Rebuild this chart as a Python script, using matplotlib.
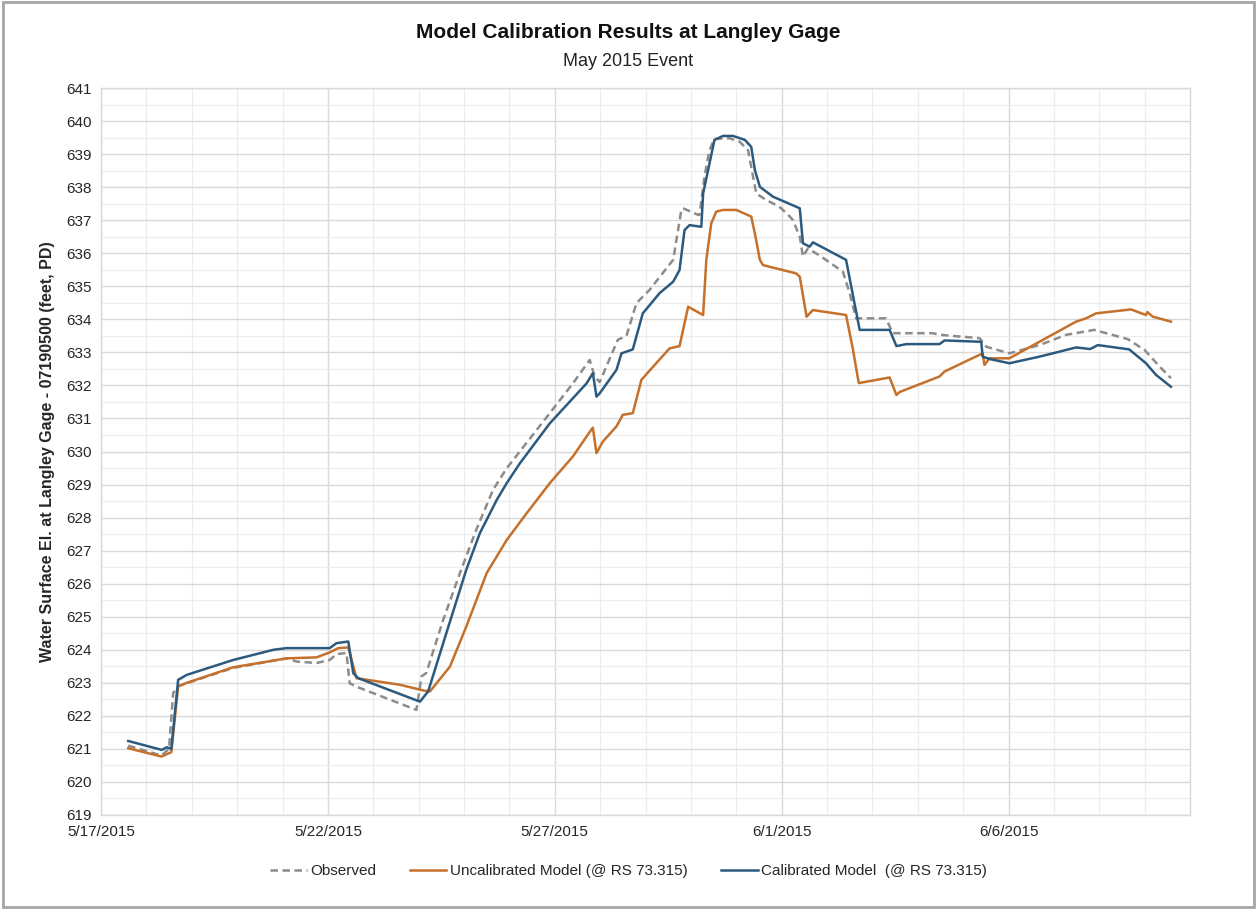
import matplotlib
matplotlib.use("Agg")
import matplotlib.pyplot as plt
import matplotlib.dates as mdates
from matplotlib.ticker import MultipleLocator, FuncFormatter
from matplotlib.patches import Rectangle
import datetime as dt

plt.rcParams['font.family'] = ['Liberation Sans', 'DejaVu Sans']

START = dt.datetime(2015, 5, 17)

# (day offset from 5/17/2015 00:00, water surface elevation)
obs_days = [0.60, 1.33, 1.50, 1.59, 1.70, 2.91, 4.09, 4.32, 4.75, 5.04, 5.19, 5.41, 5.48, 5.60,
            6.95, 7.00, 7.06, 7.17, 7.54, 7.91, 8.27, 8.64, 8.94, 9.23, 9.89, 10.40, 10.77, 10.88,
            10.99, 11.39, 11.58, 11.80, 12.09, 12.46, 12.61, 12.79, 12.83, 13.16, 13.19, 13.30,
            13.41, 13.52, 13.85, 14.07, 14.26, 14.37, 14.44, 14.66, 14.88, 14.99, 15.18, 15.25,
            15.40, 15.47, 15.58, 15.87, 16.35, 16.50, 16.64, 17.30, 17.45, 18.33, 18.50, 19.36,
            19.51, 20.02, 20.68, 21.27, 21.89, 22.63, 23.00, 23.33, 23.58]
obs_vals = [621.10, 620.80, 621.00, 622.69, 622.90, 623.45, 623.74, 623.64, 623.60, 623.69, 623.87,
            623.90, 622.99, 622.90, 622.18, 622.60, 623.19, 623.30, 624.90, 626.32, 627.63, 628.84,
            629.49, 630.00, 631.16, 632.06, 632.77, 632.27, 632.10, 633.38, 633.50, 634.49, 634.89,
            635.54, 635.80, 637.31, 637.36, 637.16, 637.16, 638.32, 639.12, 639.46, 639.48, 639.38,
            639.12, 638.32, 637.81, 637.61, 637.46, 637.36, 637.11, 637.00, 636.50, 635.90, 636.15,
            635.90, 635.44, 634.79, 634.03, 634.03, 633.58, 633.58, 633.53, 633.43, 633.17, 632.97,
            633.22, 633.53, 633.68, 633.40, 633.07, 632.57, 632.22]

unc_days = [0.60, 1.33, 1.55, 1.70, 1.89, 2.91, 4.09, 4.75, 5.04, 5.23, 5.45, 5.63, 6.59, 7.10,
            7.25, 7.69, 8.05, 8.50, 8.94, 9.38, 9.89, 10.40, 10.80, 10.84, 10.92, 11.06, 11.36,
            11.50, 11.72, 11.91, 12.17, 12.53, 12.75, 12.94, 13.27, 13.34, 13.45, 13.56, 13.71,
            14.00, 14.33, 14.41, 14.52, 14.59, 15.32, 15.40, 15.55, 15.69, 16.42, 16.57, 16.70,
            17.38, 17.53, 17.60, 18.48, 18.59, 19.43, 19.47, 19.58, 20.02, 20.68, 21.49, 21.71,
            21.93, 22.70, 23.03, 23.06, 23.18, 23.58]
unc_vals = [621.02, 620.77, 620.90, 622.89, 623.00, 623.47, 623.74, 623.77, 623.92, 624.05, 624.07,
            623.14, 622.94, 622.77, 622.74, 623.49, 624.70, 626.32, 627.32, 628.13, 629.04, 629.85,
            630.65, 630.72, 629.95, 630.30, 630.76, 631.11, 631.16, 632.17, 632.57, 633.12, 633.19,
            634.38, 634.13, 635.80, 636.91, 637.26, 637.31, 637.31, 637.11, 636.60, 635.80, 635.64,
            635.39, 635.29, 634.08, 634.28, 634.13, 633.10, 632.07, 632.24, 631.71, 631.80, 632.27,
            632.42, 632.97, 632.62, 632.82, 632.82, 633.32, 633.93, 634.03, 634.18, 634.30, 634.13,
            634.22, 634.08, 633.93]

cal_days = [0.60, 1.34, 1.45, 1.55, 1.70, 1.89, 2.91, 3.80, 4.09, 5.04, 5.19, 5.45, 5.56, 5.67,
            7.03, 7.21, 7.61, 8.05, 8.35, 8.72, 8.94, 9.23, 9.89, 10.70, 10.84, 10.92, 10.99, 11.36,
            11.47, 11.72, 11.94, 12.31, 12.61, 12.75, 12.86, 12.97, 13.23, 13.27, 13.38, 13.52,
            13.71, 13.93, 14.19, 14.33, 14.41, 14.52, 14.81, 15.40, 15.47, 15.62, 15.69, 16.42,
            16.72, 17.38, 17.53, 17.75, 18.48, 18.59, 19.40, 19.43, 19.58, 20.02, 20.68, 21.12,
            21.49, 21.80, 21.97, 22.66, 23.03, 23.25, 23.58]
cal_vals = [621.24, 620.97, 621.05, 621.00, 623.09, 623.24, 623.69, 624.00, 624.05, 624.05, 624.20,
            624.25, 623.29, 623.14, 622.43, 622.74, 624.50, 626.42, 627.53, 628.53, 629.04, 629.64,
            630.85, 632.06, 632.37, 631.66, 631.76, 632.47, 632.97, 633.09, 634.18, 634.79, 635.14,
            635.49, 636.70, 636.85, 636.80, 637.81, 638.52, 639.43, 639.55, 639.55, 639.43, 639.22,
            638.52, 638.01, 637.71, 637.36, 636.30, 636.20, 636.33, 635.80, 633.68, 633.68, 633.19,
            633.25, 633.25, 633.36, 633.32, 632.87, 632.80, 632.67, 632.87, 633.02, 633.15, 633.10,
            633.22, 633.09, 632.67, 632.32, 631.96]

x_tick_dates = [dt.datetime(2015, 5, 17), dt.datetime(2015, 5, 22), dt.datetime(2015, 5, 27),
                dt.datetime(2015, 6, 1), dt.datetime(2015, 6, 6)]


def to_dates(days):
    return [START + dt.timedelta(days=d) for d in days]


fig = plt.figure(figsize=(12.57, 9.09), dpi=100)
ax = fig.add_axes([101 / 1257, 1 - 815 / 909, (1190 - 101) / 1257, (815 - 88) / 909])

c_obs = '#8c8c8c'
c_unc = '#c5702b'
c_cal = '#2c5a7e'

ax.plot(to_dates(obs_days), obs_vals, color=c_obs, lw=1.8, ls=(0, (3, 1.8)), label='Observed', zorder=3)
ax.plot(to_dates(unc_days), unc_vals, color=c_unc, lw=1.8, label='Uncalibrated Model (@ RS 73.315)', zorder=4)
ax.plot(to_dates(cal_days), cal_vals, color=c_cal, lw=1.8, label='Calibrated Model  (@ RS 73.315)', zorder=5)

ax.set_xlim(dt.datetime(2015, 5, 17), dt.datetime(2015, 6, 10))
ax.set_ylim(619, 641)
ax.yaxis.set_major_locator(MultipleLocator(1))
ax.yaxis.set_minor_locator(MultipleLocator(0.5))
ax.set_xticks(x_tick_dates)
ax.xaxis.set_minor_locator(mdates.DayLocator())
ax.xaxis.set_major_formatter(FuncFormatter(
    lambda v, p: (lambda d: f"{d.month}/{d.day}/{d.year}")(mdates.num2date(v))))

ax.grid(which='major', axis='both', color='#d9d9d9', lw=1.0, zorder=0)
ax.grid(which='minor', axis='both', color='#ededed', lw=0.9, zorder=0)
ax.set_axisbelow(True)
ax.tick_params(which='both', length=0, labelsize=11, colors='#262626', pad=7)
for s in ax.spines.values():
    s.set_color('#d9d9d9')
    s.set_linewidth(1.0)

ax.set_ylabel('Water Surface El. at Langley Gage - 07190500 (feet, PD)', fontsize=11.5,
              fontweight='bold', color='#262626', labelpad=8)

fig.text(0.5, 1 - 33 / 909, 'Model Calibration Results at Langley Gage', ha='center', va='center',
         fontsize=15, fontweight='bold', color='#111111')
fig.text(0.5, 1 - 61 / 909, 'May 2015 Event', ha='center', va='center', fontsize=13, color='#222222')

leg = fig.legend(loc='center', bbox_to_anchor=(0.5, 1 - 871 / 909), ncol=3, frameon=False,
                 fontsize=11, handlelength=2.4, columnspacing=2.2, handletextpad=0.2)
for t in leg.get_texts():
    t.set_color('#262626')

fig.patches.append(Rectangle((0.002, 0.002), 0.996, 0.996, transform=fig.transFigure,
                             fill=False, edgecolor='#a6a6a6', lw=2.0))

fig.savefig('out.png', dpi=100)
